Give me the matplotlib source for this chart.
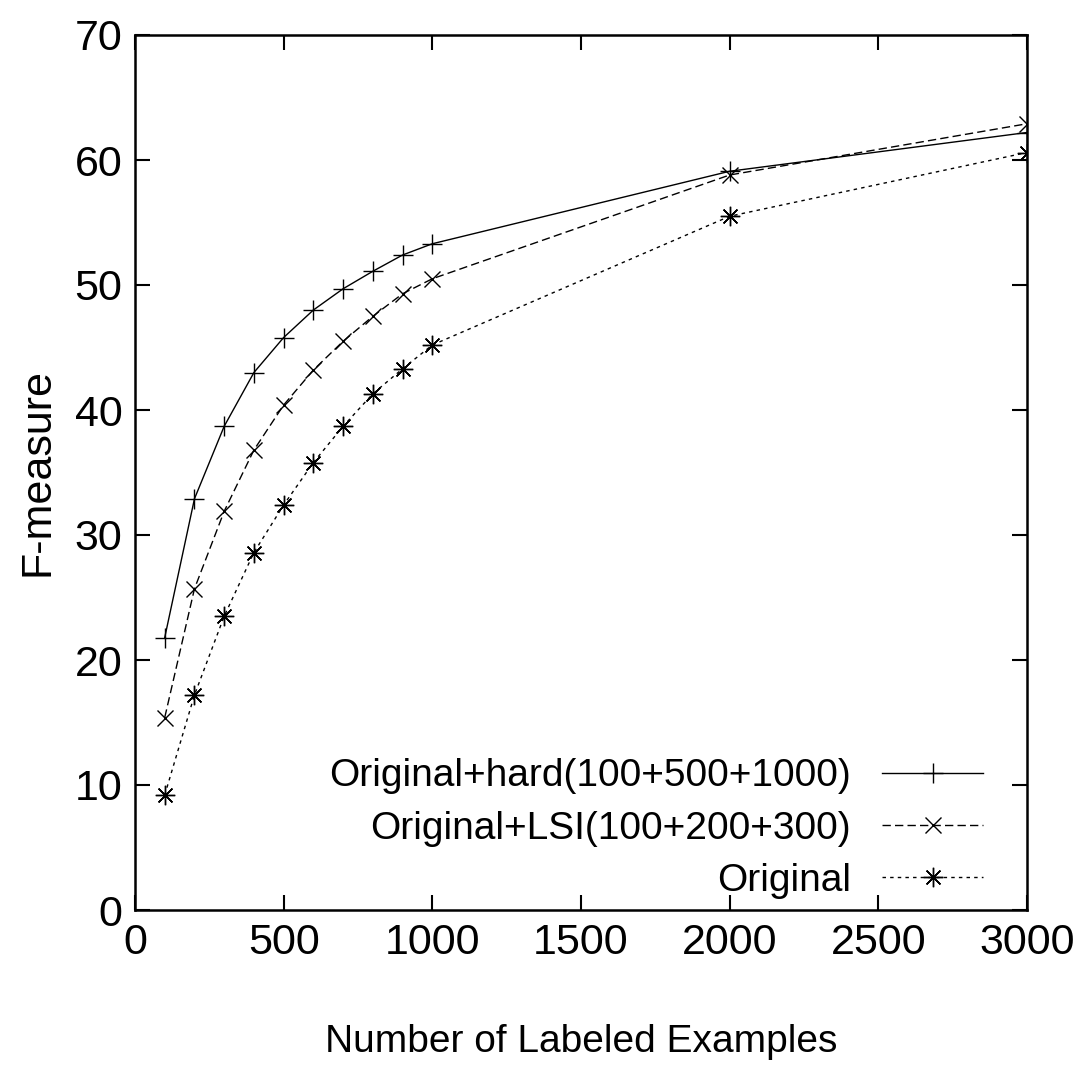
import matplotlib
matplotlib.use("Agg")
import matplotlib.pyplot as plt

plt.rcParams['font.family'] = ['Liberation Sans', 'DejaVu Sans']

# labeled examples
n_labeled = [100, 200, 300, 400, 500, 600, 700, 800, 900, 1000, 2000, 3000]

# F-measure per method
f_hard = [21.8, 32.9, 38.7, 43.0, 45.8, 48.0, 49.7, 51.1, 52.4, 53.3, 59.1, 62.2]
f_lsi = [15.4, 25.7, 31.9, 36.8, 40.4, 43.2, 45.5, 47.5, 49.3, 50.5, 58.8, 62.9]
f_orig = [9.2, 17.2, 23.5, 28.6, 32.4, 35.8, 38.7, 41.3, 43.3, 45.2, 55.5, 60.6]

labels = ["Original+hard(100+500+1000)", "Original+LSI(100+200+300)", "Original"]

x_ticks = [0, 500, 1000, 1500, 2000, 2500, 3000]
y_ticks = [0, 10, 20, 30, 40, 50, 60, 70]

fig = plt.figure(figsize=(10.74, 10.70), dpi=100)
ax = fig.add_axes([135 / 1074, 1 - 910 / 1070, (1027 - 135) / 1074, (910 - 35) / 1070])

ax.plot(n_labeled, f_hard, color='black', lw=1.0, ls='-',
        marker='+', ms=14, mew=1.0, label=labels[0])
ax.plot(n_labeled, f_lsi, color='black', lw=1.0, ls=(0, (6, 3)),
        marker='x', ms=12, mew=1.0, label=labels[1])
ax.plot(n_labeled, f_orig, color='black', lw=1.0, ls=(0, (2.5, 3)),
        marker=(8, 2, 0), ms=14, mew=1.0, label=labels[2])

ax.set_xlim(0, 3000)
ax.set_ylim(0, 70)
ax.set_xticks(x_ticks)
ax.set_yticks(y_ticks)
ax.tick_params(direction='in', length=11, width=1.5, top=True, right=True,
               labelsize=31, pad=9)
for s in ax.spines.values():
    s.set_linewidth(1.8)

ax.set_xlabel("Number of Labeled Examples", fontsize=28, labelpad=44)
ax.set_ylabel("F-measure", fontsize=31, labelpad=12)

leg = ax.legend(loc='lower right', bbox_to_anchor=(0.977, -0.014), frameon=False,
                markerfirst=False, fontsize=28, handlelength=2.6,
                handletextpad=0.8, labelspacing=0.42, borderaxespad=0.2)
for t in leg.get_texts():
    t.set_ha('right')
leg._legend_box.align = 'right'

fig.savefig("out.png", dpi=100)
